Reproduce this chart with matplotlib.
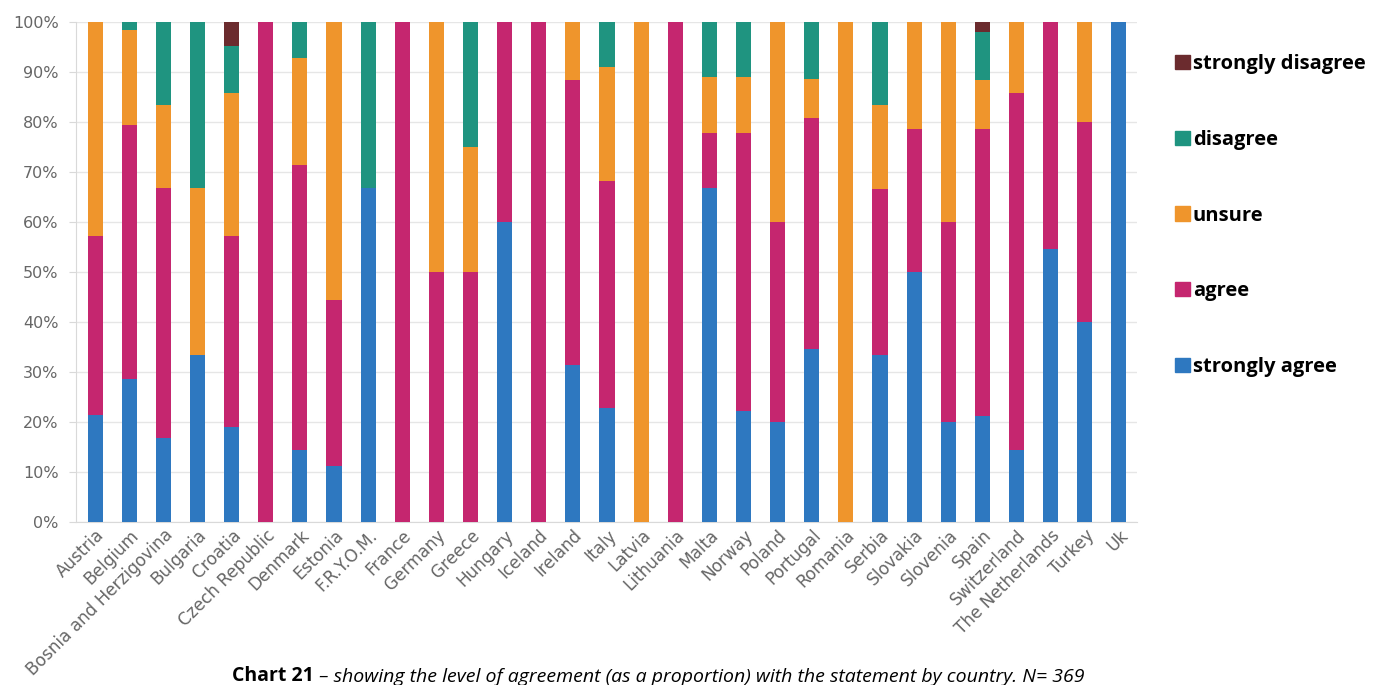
import numpy as np
import matplotlib
matplotlib.use("Agg")
import matplotlib.pyplot as plt
from matplotlib.patches import Patch
from matplotlib.ticker import PercentFormatter

# Données (en %)
countries = ["Austria", "Belgium", "Bosnia and Herzigovina", "Bulgaria", "Croatia",
             "Czech Republic", "Denmark", "Estonia", "F.R.Y.O.M.", "France", "Germany",
             "Greece", "Hungary", "Iceland", "Ireland", "Italy", "Latvia", "Lithuania",
             "Malta", "Norway", "Poland", "Portugal", "Romania", "Serbia", "Slovakia",
             "Slovenia", "Spain", "Switzerland", "The Netherlands", "Turkey", "Uk"]
strongly_agree = [21.4, 28.5, 16.7, 33.3, 19.0, 0, 14.3, 11.1, 66.7, 0, 0, 0, 60, 0, 31.3,
                  22.7, 0, 0, 66.7, 22.2, 20, 34.6, 0, 33.3, 50, 20, 21.1, 14.3, 54.5, 40, 100]
agree = [35.7, 50.8, 50.0, 0, 38.1, 100, 57.1, 33.3, 0, 100, 50, 50, 40, 100, 57.0,
         45.5, 0, 100, 11.1, 55.6, 40, 46.2, 0, 33.3, 28.6, 40, 57.5, 71.4, 45.5, 40, 0]
unsure = [42.9, 19.0, 16.7, 33.4, 28.6, 0, 21.4, 55.6, 0, 0, 50, 25, 0, 0, 11.7,
          22.7, 100, 0, 11.1, 11.1, 40, 7.7, 100, 16.7, 21.4, 40, 9.7, 14.3, 0, 20, 0]
disagree = [0, 1.7, 16.6, 33.3, 9.5, 0, 7.2, 0, 33.3, 0, 0, 25, 0, 0, 0,
            9.1, 0, 0, 11.1, 11.1, 0, 11.5, 0, 16.7, 0, 0, 9.7, 0, 0, 0, 0]
strongly_disagree = [0, 0, 0, 0, 4.8, 0, 0, 0, 0, 0, 0, 0, 0, 0, 0,
                     0, 0, 0, 0, 0, 0, 0, 0, 0, 0, 0, 2.0, 0, 0, 0, 0]

series = [("strongly agree", strongly_agree, "#2e78c0"),
          ("agree", agree, "#c5266f"),
          ("unsure", unsure, "#ef952c"),
          ("disagree", disagree, "#1f9480"),
          ("strongly disagree", strongly_disagree, "#6b2b2e")]

plt.rcParams['font.family'] = ['Open Sans', 'DejaVu Sans']

fig = plt.figure(figsize=(13.82, 6.85), dpi=100)
ax = fig.add_axes([0.055, 0.238, 0.7677, 0.730])

x = np.arange(len(countries))
bottom = np.zeros(len(countries))
for name, vals, col in series:
    vals = np.array(vals, dtype=float)
    ax.bar(x, vals, 0.44, bottom=bottom, color=col, label=name, zorder=3)
    bottom += vals

ax.set_xlim(-0.56, len(countries) - 0.47)
ax.set_ylim(0, 100)
ax.set_yticks(np.arange(0, 101, 10))
ax.yaxis.set_major_formatter(PercentFormatter(decimals=0))
ax.grid(axis='y', color='#e6e6e6', linewidth=1, zorder=0)
for s in ['top', 'right']:
    ax.spines[s].set_visible(False)
for s in ['left', 'bottom']:
    ax.spines[s].set_color('#d9d9d9')
ax.tick_params(axis='y', colors='#d9d9d9', labelcolor='#666666', length=5, pad=7.5)
ax.tick_params(axis='x', length=0, labelcolor='#666666', pad=3)
for lab in ax.get_yticklabels():
    lab.set_family('DejaVu Sans')
    lab.set_fontsize(11.5)
ax.set_xticks(x)
ax.set_xticklabels(countries, rotation=45, ha='right', rotation_mode='anchor',
                   family='DejaVu Sans', fontsize=12.2)

handles = [Patch(color=col, label=name) for name, vals, col in series[::-1]]
fig.legend(handles=handles, loc='upper left', bbox_to_anchor=(0.837, 0.947),
           frameon=False, handlelength=0.75, handleheight=0.7, handletextpad=0.15,
           labelspacing=2.76, prop={'weight': 'bold', 'size': 14.5})

t1 = fig.text(0.168, 0.006, "Chart 21", fontsize=14, fontweight='bold', va='baseline')
ax.annotate(" \u2013 showing the level of agreement (as a proportion) with the statement by country. N= 369",
            xy=(1, 0), xycoords=t1, va='bottom', ha='left', fontsize=14, style='italic',
            annotation_clip=False)

fig.savefig("out.png", dpi=100)
